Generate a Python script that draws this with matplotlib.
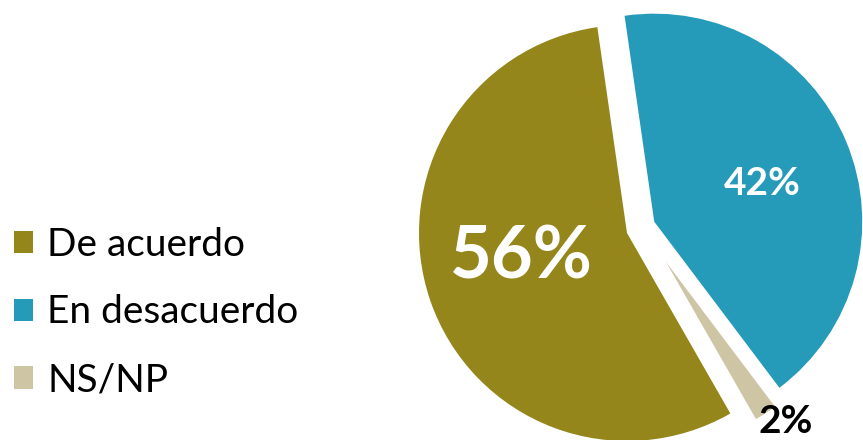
import numpy as np
import matplotlib
matplotlib.use("Agg")
import matplotlib.pyplot as plt

categories = ["De acuerdo", "En desacuerdo", "NS/NP"]
values = [56, 42, 2]
labels = ["56%", "42%", "2%"]
colors = ["#95861B", "#259AB9", "#CEC5A5"]

plt.rcParams["font.family"] = ["Lato", "DejaVu Sans"]

W, H = 863, 440
fig = plt.figure(figsize=(W / 100, H / 100), dpi=100)
ax = fig.add_axes([0, 0, 1, 1])

# pie drawing order (counter-clockwise from the top): De acuerdo, NS/NP, En desacuerdo
order = [0, 2, 1]
cx, cy, R = 627, 207, 208
wedges, _ = ax.pie([values[i] for i in order], colors=[colors[i] for i in order],
                   startangle=98.2, counterclock=True, center=(cx, cy), radius=R,
                   wedgeprops=dict(linewidth=0))
ax.set_xlim(0, W)
ax.set_ylim(0, H)
ax.set_aspect("equal")
ax.axis("off")

w_by_cat = {order[k]: wedges[k] for k in range(3)}

# explode En desacuerdo
wb = w_by_cat[1]
mid = np.deg2rad((wb.theta1 + wb.theta2) / 2)
wb.set_center((cx + 29.5 * np.cos(mid), cy + 29.5 * np.sin(mid)))
# NS/NP slice moved and slightly smaller
wn = w_by_cat[2]
wn.set_center((cx + 39, cy - 29))
wn.set_radius(181)

def place(w, frac, dang, text, **kw):
    m = np.deg2rad((w.theta1 + w.theta2) / 2 + dang)
    x = w.center[0] + frac * w.r * np.cos(m)
    y = w.center[1] + frac * w.r * np.sin(m)
    ax.text(x, y, text, ha="center", va="center", **kw)

place(w_by_cat[0], 0.52, -5.5, labels[0], color="white", fontsize=52, fontweight="bold")
place(w_by_cat[1], 0.55, -3, labels[1], color="white", fontsize=28, fontweight="bold")
place(w_by_cat[2], 1.10, 3.5, labels[2], color="black", fontsize=28, fontweight="bold")

handles = [w_by_cat[i] for i in range(3)]
leg = fig.legend(handles, categories, loc="center left", bbox_to_anchor=(14 / W, 0.29),
                 frameon=False, fontsize=28, handlelength=0.5, handleheight=0.5,
                 handletextpad=0.36, labelspacing=0.82, borderaxespad=0, borderpad=0)

fig.savefig("out.png", dpi=100)
